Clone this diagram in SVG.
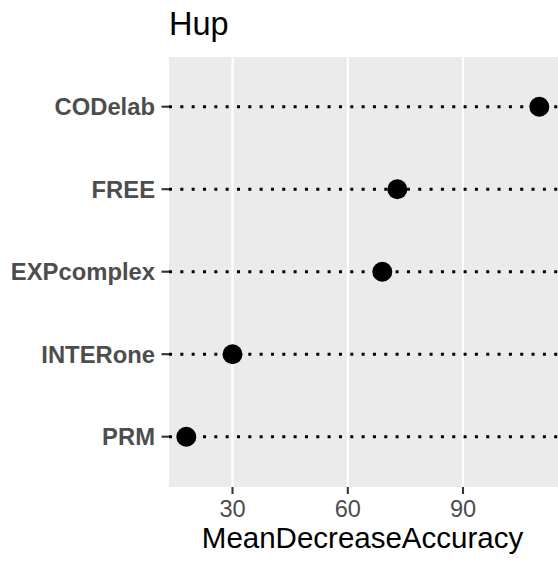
<svg xmlns="http://www.w3.org/2000/svg" width="558" height="563" viewBox="0 0 558 563">
  <style>
    .panel { fill: #EBEBEB; }
    .grid { stroke: #FFFFFF; stroke-width: 2.1; fill: none; }
    .tick { stroke: #333333; stroke-width: 2.1; fill: none; }
    .seg { stroke: #000000; stroke-width: 3; stroke-dasharray: 3 8.33; fill: none; }
    .dot { fill: #000000; }
    .ylab { font-family: "Liberation Sans", Arial, sans-serif; font-size: 23.8px; font-weight: bold; fill: #4D4D4D; text-anchor: end; }
    .xlab { font-family: "Liberation Sans", Arial, sans-serif; font-size: 23.6px; fill: #4D4D4D; text-anchor: middle; }
    .title { font-family: "Liberation Sans", Arial, sans-serif; font-size: 32.5px; fill: #000000; }
    .axtitle { font-family: "Liberation Sans", Arial, sans-serif; font-size: 29.5px; fill: #000000; text-anchor: middle; }
  </style>

  <rect width="558" height="563" fill="#FFFFFF"/>

  <!-- plotting panel and major gridlines -->
  <g id="panel">
    <rect class="panel" x="169" y="57" width="389" height="430"/>
    <line class="grid" x1="232.5" y1="57" x2="232.5" y2="487"/>
    <line class="grid" x1="347.8" y1="57" x2="347.8" y2="487"/>
    <line class="grid" x1="463" y1="57" x2="463" y2="487"/>
  </g>

  <!-- dotted leader lines from the axis to the panel edge -->
  <g id="connectors">
    <line class="seg" x1="169" y1="106.7" x2="558" y2="106.7"/>
    <line class="seg" x1="169" y1="189.2" x2="558" y2="189.2"/>
    <line class="seg" x1="169" y1="271.7" x2="558" y2="271.7"/>
    <line class="seg" x1="169" y1="354.2" x2="558" y2="354.2"/>
    <line class="seg" x1="169" y1="436.7" x2="558" y2="436.7"/>
  </g>

  <!-- one point per variable -->
  <g id="CODelab">
    <circle class="dot" cx="539.3" cy="106.7" r="10"/>
    <line class="tick" x1="161.5" y1="106.7" x2="169" y2="106.7"/>
    <text class="ylab" x="155" y="115.2">CODelab</text>
  </g>
  <g id="FREE">
    <circle class="dot" cx="397.3" cy="189.2" r="10"/>
    <line class="tick" x1="161.5" y1="189.2" x2="169" y2="189.2"/>
    <text class="ylab" x="155" y="197.7">FREE</text>
  </g>
  <g id="EXPcomplex">
    <circle class="dot" cx="382.3" cy="271.7" r="10"/>
    <line class="tick" x1="161.5" y1="271.7" x2="169" y2="271.7"/>
    <text class="ylab" x="155" y="280.2">EXPcomplex</text>
  </g>
  <g id="INTERone">
    <circle class="dot" cx="232.5" cy="354.2" r="10"/>
    <line class="tick" x1="161.5" y1="354.2" x2="169" y2="354.2"/>
    <text class="ylab" x="155" y="362.7">INTERone</text>
  </g>
  <g id="PRM">
    <circle class="dot" cx="186.3" cy="436.7" r="10"/>
    <line class="tick" x1="161.5" y1="436.7" x2="169" y2="436.7"/>
    <text class="ylab" x="155" y="445.2">PRM</text>
  </g>

  <!-- x axis -->
  <g id="x-axis">
    <line class="tick" x1="232.5" y1="487" x2="232.5" y2="494"/>
    <line class="tick" x1="347.8" y1="487" x2="347.8" y2="494"/>
    <line class="tick" x1="463" y1="487" x2="463" y2="494"/>
    <text class="xlab" x="232.5" y="516.7">30</text>
    <text class="xlab" x="347.8" y="516.7">60</text>
    <text class="xlab" x="463" y="516.7">90</text>
    <text class="axtitle" x="362.5" y="548.2">MeanDecreaseAccuracy</text>
  </g>

  <text class="title" x="169" y="34.5">Hup</text>
</svg>
